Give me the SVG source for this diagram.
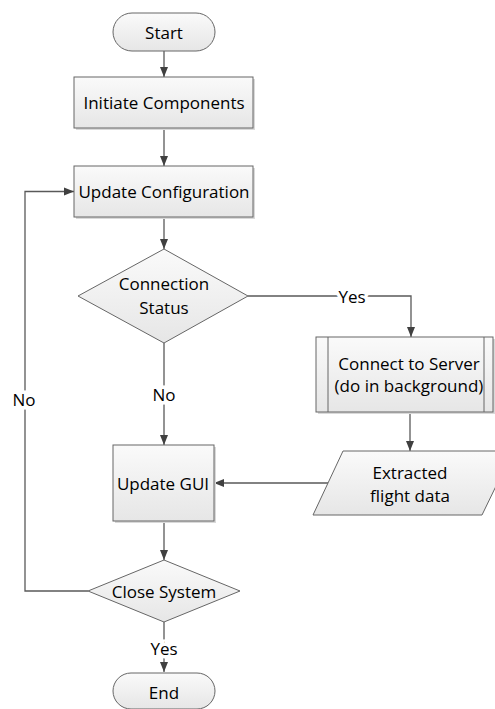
<svg xmlns="http://www.w3.org/2000/svg" width="495" height="709" viewBox="0 0 495 709">
<defs>
<linearGradient id="g" x1="0" y1="0" x2="0" y2="1">
<stop offset="0" stop-color="#fafafa"/>
<stop offset="1" stop-color="#e6e6e6"/>
</linearGradient>
<marker id="ah" markerWidth="10" markerHeight="10" refX="10" refY="5" orient="auto" markerUnits="userSpaceOnUse">
<path d="M0,1 L10,5 L0,9 Z" fill="#404040"/>
</marker>
<style>
.s{fill:url(#g);stroke:#666;stroke-width:1}
.sh{fill:#d9d9d9;stroke:none}
.t{font-family:"Open Sans","Liberation Sans",sans-serif;font-size:17px;fill:#000;text-anchor:middle;dominant-baseline:central}
.c{fill:none;stroke:#595959;stroke-width:1.3}
.a{marker-end:url(#ah)}
.lb{font-family:"Open Sans","Liberation Sans",sans-serif;font-size:17px;fill:#000;text-anchor:middle;dominant-baseline:central;stroke:#fff;stroke-width:7;paint-order:stroke}
</style>
</defs>
<rect width="495" height="709" fill="#fff"/>
<g id="connectors">
<path class="c a" d="M164,51 V77"/>
<path class="c a" d="M164,128 V166"/>
<path class="c a" d="M164,217 V249"/>
<path class="c a" d="M248,296 H411 V337"/>
<path class="c a" d="M164,343 V445"/>
<path class="c a" d="M410,412 V451"/>
<path class="c a" d="M328,483 H214"/>
<path class="c a" d="M164,521 V560"/>
<path class="c a" d="M88,591 H25 V191.5 H74"/>
<path class="c a" d="M164,622 V672"/>
<text class="lb" x="352" y="296">Yes</text>
<text class="lb" x="164" y="394">No</text>
<text class="lb" x="24" y="399">No</text>
<text class="lb" x="164" y="648">Yes</text>
</g>
<g id="start">
<rect class="s" x="113" y="13" width="102" height="38" rx="19"/>
<text class="t" x="164" y="32">Start</text>
</g>
<g id="initiate">
<rect class="sh" x="76" y="79" width="179" height="51"/>
<rect class="s" x="74" y="77" width="179" height="51"/>
<text class="t" x="164" y="102">Initiate Components</text>
</g>
<g id="update-config">
<rect class="sh" x="76" y="168" width="179" height="51"/>
<rect class="s" x="74" y="166" width="179" height="51"/>
<text class="t" x="164" y="191">Update Configuration</text>
</g>
<g id="connection-status">
<polygon class="s" points="164,249 248,296 164,343 78,296"/>
<text class="t" x="164" y="283">Connection</text>
<text class="t" x="164" y="307">Status</text>
</g>
<g id="connect-server">
<rect class="sh" x="318" y="339" width="177" height="75"/>
<rect class="s" x="316" y="337" width="177" height="75"/>
<line x1="328" y1="337" x2="328" y2="412" stroke="#666"/>
<line x1="484" y1="337" x2="484" y2="412" stroke="#666"/>
<text class="t" x="409" y="363">Connect to Server</text>
<text class="t" x="409" y="385">(do in background)</text>
</g>
<g id="extracted">
<polygon class="s" points="343,451 513,451 482,515 313,515"/>
<text class="t" x="410" y="472">Extracted</text>
<text class="t" x="410" y="495">flight data</text>
</g>
<g id="update-gui">
<rect class="sh" x="115" y="447" width="101" height="76"/>
<rect class="s" x="113" y="445" width="101" height="76"/>
<text class="t" x="163" y="483">Update GUI</text>
</g>
<g id="close-system">
<polygon class="s" points="164,560 240,591 164,622 88,591"/>
<text class="t" x="164" y="591">Close System</text>
</g>
<g id="end">
<rect class="s" x="113" y="673" width="102" height="36" rx="18"/>
<text class="t" x="164" y="692">End</text>
</g>
</svg>
